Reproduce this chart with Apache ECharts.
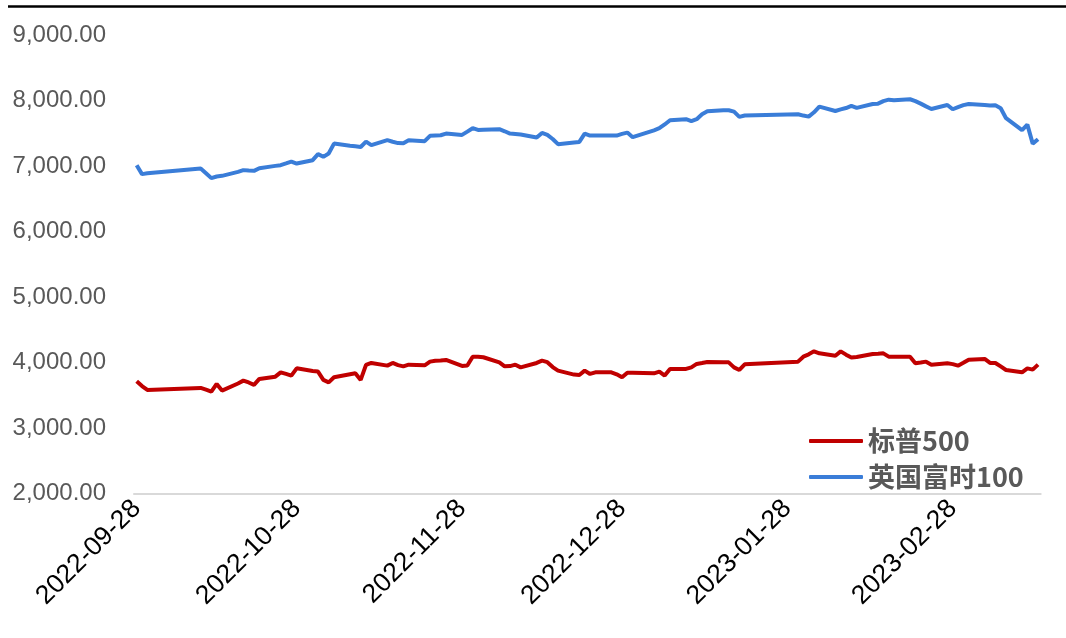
<!DOCTYPE html>
<html>
<head>
<meta charset="utf-8">
<title>标普500 / 英国富时100</title>
<script src="https://cdn.jsdelivr.net/npm/echarts@6.0.0/dist/echarts.min.js"></script>
<style>
  html, body { margin: 0; padding: 0; background: #fff; }
  #chart { width: 1066px; height: 638px; }
</style>
</head>
<body>
<div id="chart"></div>
<script>
(function () {
  'use strict';

  var axisStart = '2022-09-28';
  var axisEnd = '2023-03-16';

  var tradeDates = [
    '2022-09-28', '2022-09-29', '2022-09-30',
    '2022-10-10', '2022-10-11', '2022-10-12', '2022-10-13', '2022-10-14',
    '2022-10-17', '2022-10-18', '2022-10-19', '2022-10-20', '2022-10-21',
    '2022-10-24', '2022-10-25', '2022-10-26', '2022-10-27', '2022-10-28',
    '2022-10-31', '2022-11-01', '2022-11-02', '2022-11-03', '2022-11-04',
    '2022-11-07', '2022-11-08', '2022-11-09', '2022-11-10', '2022-11-11',
    '2022-11-14', '2022-11-15', '2022-11-16', '2022-11-17', '2022-11-18',
    '2022-11-21', '2022-11-22', '2022-11-23', '2022-11-24', '2022-11-25',
    '2022-11-28', '2022-11-29', '2022-11-30', '2022-12-01', '2022-12-02',
    '2022-12-05', '2022-12-06', '2022-12-07', '2022-12-08', '2022-12-09',
    '2022-12-12', '2022-12-13', '2022-12-14', '2022-12-15', '2022-12-16',
    '2022-12-19', '2022-12-20', '2022-12-21', '2022-12-22', '2022-12-23',
    '2022-12-26', '2022-12-27', '2022-12-28', '2022-12-29', '2022-12-30',
    '2023-01-03', '2023-01-04', '2023-01-05', '2023-01-06',
    '2023-01-09', '2023-01-10', '2023-01-11', '2023-01-12', '2023-01-13',
    '2023-01-16', '2023-01-17', '2023-01-18', '2023-01-19', '2023-01-20',
    '2023-01-30', '2023-01-31', '2023-02-01', '2023-02-02', '2023-02-03',
    '2023-02-06', '2023-02-07', '2023-02-08', '2023-02-09', '2023-02-10',
    '2023-02-13', '2023-02-14', '2023-02-15', '2023-02-16', '2023-02-17',
    '2023-02-20', '2023-02-21', '2023-02-22', '2023-02-23', '2023-02-24',
    '2023-02-27', '2023-02-28', '2023-03-01', '2023-03-02', '2023-03-03',
    '2023-03-06', '2023-03-07', '2023-03-08', '2023-03-09', '2023-03-10',
    '2023-03-13', '2023-03-14', '2023-03-15', '2023-03-16'
  ];

  // 标普500
  var spxValues = [
    3713, 3640, 3581,
    3612, 3585, 3556, 3673, 3571,
    3680, 3723, 3695, 3658, 3749,
    3784, 3850, 3825, 3800, 3911,
    3871, 3861, 3734, 3697, 3774,
    3820, 3835, 3734, 3963, 3993,
    3952, 3993, 3960, 3941, 3967,
    3957, 4013, 4028, 4030, 4039,
    3947, 3955, 4089, 4089, 4080,
    4002, 3941, 3945, 3967, 3926,
    3993, 4028, 4005, 3930, 3876,
    3815, 3810, 3876, 3825, 3850,
    3850, 3820, 3774, 3845, 3845,
    3835, 3861, 3800, 3902,
    3902, 3925, 3978, 3992, 4008,
    4004, 4002, 3926, 3886, 3972,
    4013, 4089, 4125, 4170, 4140,
    4104, 4170, 4120, 4075, 4085,
    4131, 4135, 4140, 4089, 4089,
    4089, 3990, 4000, 4013, 3967,
    3987, 3975, 3952, 3995, 4043,
    4054, 3993, 3993, 3940, 3886,
    3850, 3911, 3891, 3967
  ];

  // 英国富时100
  var ftseValues = [
    7013, 6876, 6888,
    6961, 6890, 6815, 6840, 6850,
    6910, 6937, 6930, 6926, 6967,
    7002, 7013, 7040, 7068, 7037,
    7089, 7181, 7140, 7190, 7342,
    7310, 7300, 7290, 7373, 7318,
    7394, 7370, 7350, 7348, 7394,
    7379, 7460, 7465, 7470, 7495,
    7475, 7525, 7577, 7551, 7555,
    7562, 7530, 7495, 7488, 7480,
    7434, 7505, 7475, 7412, 7333,
    7360, 7368, 7495, 7465, 7465,
    7465, 7465, 7490, 7510, 7440,
    7545, 7577, 7634, 7699,
    7714, 7684, 7714, 7790, 7836,
    7851, 7851, 7830, 7750, 7770,
    7791, 7770, 7754, 7820, 7907,
    7840, 7864, 7885, 7917, 7887,
    7947, 7952, 7990, 8013, 8005,
    8019, 7990, 7952, 7910, 7871,
    7932, 7866, 7900, 7930, 7947,
    7930, 7922, 7927, 7882, 7730,
    7547, 7632, 7342, 7409
  ];

  var seriesNames = ['标普500', '英国富时100'];
  var yMin = 2000, yMax = 9000, yStep = 1000;

  // every calendar day on the axis
  var calendarDays = [];
  var d = new Date(axisStart + 'T00:00:00Z');
  var end = new Date(axisEnd + 'T00:00:00Z');
  while (d <= end) {
    calendarDays.push(d.toISOString().slice(0, 10));
    d.setUTCDate(d.getUTCDate() + 1);
  }

  function pairs(values) {
    return tradeDates.map(function (date, i) {
      return [date, values[i]];
    });
  }

  function isMonthTick(index, value) {
    return value.slice(8) === '28';
  }

  function fmt(v) {
    return v.toFixed(2).replace(/\B(?=(\d{3})+(?!\d))/g, ',');
  }

  var myChart = echarts.init(document.getElementById('chart'));

  var option = {
    animation: false,
    backgroundColor: '#fff',
    graphic: [{
      type: 'line',
      shape: { x1: 8, y1: 6.5, x2: 1066, y2: 6.5 },
      style: { stroke: '#000', lineWidth: 2.5 }
    }],
    grid: {
      left: 134,
      right: 25.3,
      top: 35,
      bottom: 144.5
    },
    legend: {
      orient: 'vertical',
      left: 804,
      top: 422,
      itemWidth: 54,
      itemHeight: 4,
      itemGap: 8,
      icon: 'roundRect',
      data: seriesNames,
      textStyle: {
        fontFamily: 'Noto Sans CJK SC',
        fontWeight: 'bold',
        fontSize: 27,
        lineHeight: 28,
        color: '#595959'
      }
    },
    xAxis: {
      type: 'category',
      data: calendarDays,
      boundaryGap: true,
      axisLine: { lineStyle: { color: '#d9d9d9', width: 2 } },
      axisTick: {
        interval: isMonthTick,
        length: 7,
        lineStyle: { color: '#d9d9d9', width: 2 }
      },
      axisLabel: {
        interval: isMonthTick,
        rotate: 45,
        margin: 11,
        color: '#000',
        fontFamily: 'Liberation Sans',
        fontSize: 26.5
      },
      splitLine: { show: false }
    },
    yAxis: {
      type: 'value',
      min: yMin,
      max: yMax,
      interval: yStep,
      axisLine: { show: false },
      axisTick: { show: false },
      splitLine: { show: false },
      axisLabel: {
        margin: 28,
        color: '#595959',
        fontFamily: 'Liberation Sans',
        fontSize: 24,
        formatter: fmt
      }
    },
    series: [{
      name: seriesNames[0],
      type: 'line',
      data: pairs(spxValues),
      showSymbol: false,
      symbol: 'none',
      color: '#C00000',
      lineStyle: { width: 4, color: '#C00000' }
    }, {
      name: seriesNames[1],
      type: 'line',
      data: pairs(ftseValues),
      showSymbol: false,
      symbol: 'none',
      color: '#3A7DD8',
      lineStyle: { width: 4, color: '#3A7DD8' }
    }]
  };

  myChart.setOption(option);
})();
</script>
</body>
</html>
